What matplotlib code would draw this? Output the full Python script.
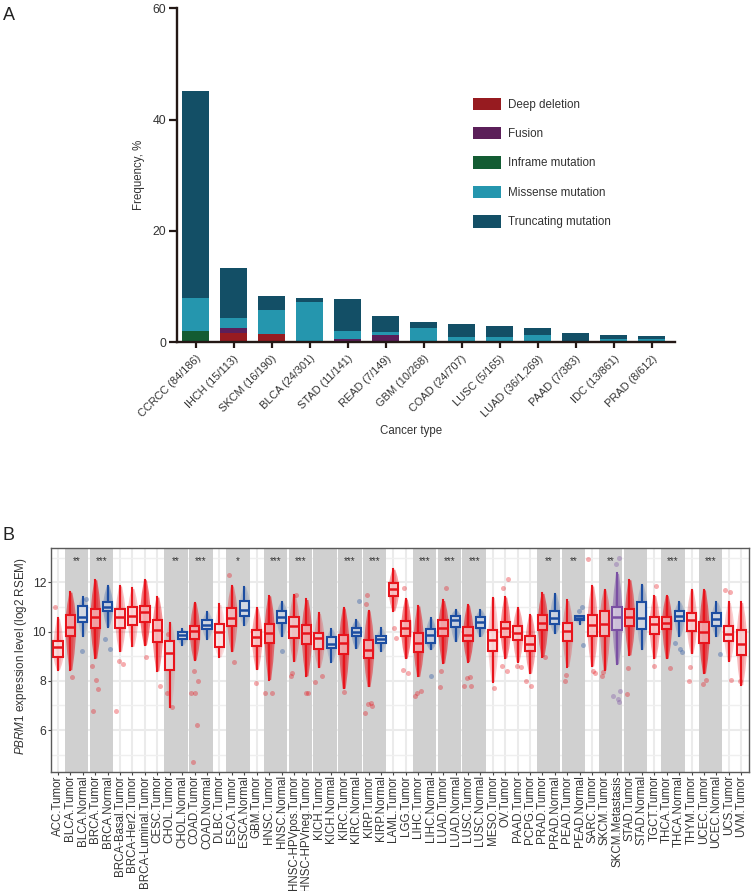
import matplotlib
matplotlib.use("Agg")
import matplotlib.pyplot as plt
from matplotlib.transforms import ScaledTranslation
from itertools import cycle

plt.rcParams['font.family'] = ['Liberation Sans', 'DejaVu Sans']
plt.rcParams['mathtext.fontset'] = 'custom'
plt.rcParams['mathtext.it'] = 'Liberation Sans:italic'
plt.rcParams['mathtext.rm'] = 'Liberation Sans'

W, H = 752, 891
TEXT = '#333333'

# ---------- Panel A data ----------
cancers = ['CCRCC (84/186)', 'IHCH (15/113)', 'SKCM (16/190)', 'BLCA (24/301)', 'STAD (11/141)',
           'READ (7/149)', 'GBM (10/268)', 'COAD (24/707)', 'LUSC (5/165)', 'LUAD (36/1,269)',
           'PAAD (7/383)', 'IDC (13/861)', 'PRAD (8/612)']
deep_deletion = [0, 1.75, 1.5, 0, 0, 0, 0, 0, 0, 0, 0, 0, 0]
fusion = [0, 0.75, 0, 0, 0.65, 1.3, 0, 0, 0, 0, 0, 0, 0]
inframe = [2.0, 0, 0, 0, 0, 0, 0, 0, 0, 0, 0, 0, 0]
missense = [6.0, 1.9, 4.25, 7.3, 1.4, 0.6, 2.6, 1.0, 1.0, 1.25, 0.3, 0.65, 0.65]
truncating = [37.1, 8.9, 2.65, 0.7, 5.7, 2.8, 1.05, 2.2, 1.95, 1.4, 1.3, 0.65, 0.5]
mut_names = ['Deep deletion', 'Fusion', 'Inframe mutation', 'Missense mutation', 'Truncating mutation']
mut_colors = ['#971B20', '#5B1F59', '#135C33', '#2596AE', '#134F66']

# ---------- Panel B data ----------
groups = ['ACC.Tumor', 'BLCA.Tumor', 'BLCA.Normal', 'BRCA.Tumor', 'BRCA.Normal', 'BRCA-Basal.Tumor',
          'BRCA-Her2.Tumor', 'BRCA-Luminal.Tumor', 'CESC.Tumor', 'CHOL.Tumor', 'CHOL.Normal', 'COAD.Tumor',
          'COAD.Normal', 'DLBC.Tumor', 'ESCA.Tumor', 'ESCA.Normal', 'GBM.Tumor', 'HNSC.Tumor', 'HNSC.Normal',
          'HNSC-HPVpos.Tumor', 'HNSC-HPVneg.Tumor', 'KICH.Tumor', 'KICH.Normal', 'KIRC.Tumor', 'KIRC.Normal',
          'KIRP.Tumor', 'KIRP.Normal', 'LAML.Tumor', 'LGG.Tumor', 'LIHC.Tumor', 'LIHC.Normal', 'LUAD.Tumor',
          'LUAD.Normal', 'LUSC.Tumor', 'LUSC.Normal', 'MESO.Tumor', 'OV.Tumor', 'PAAD.Tumor', 'PCPG.Tumor',
          'PRAD.Tumor', 'PRAD.Normal', 'PEAD.Tumor', 'PEAD.Normal', 'SARC.Tumor', 'SKCM.Tumor',
          'SKCM.Metastasis', 'STAD.Tumor', 'STAD.Normal', 'TGCT.Tumor', 'THCA.Tumor', 'THCA.Normal',
          'THYM.Tumor', 'UCEC.Tumor', 'UCEC.Normal', 'UCS.Tumor', 'UVM.Tumor']
q1 = [8.96, 9.8, 10.4, 10.13, 10.84, 10.13, 10.27, 10.4, 9.57, 8.45, 9.69, 9.69, 10.1, 9.37, 10.22, 10.62,
      9.42, 9.55, 10.34, 9.73, 9.5, 9.28, 9.35, 9.1, 9.82, 8.92, 9.53, 11.46, 9.82, 9.18, 9.55, 9.8, 10.2,
      9.62, 10.16, 9.22, 9.77, 9.65, 9.2, 10.05, 10.3, 9.62, 10.47, 9.81, 9.82, 10.08, 10.22, 10.12, 9.9,
      10.1, 10.42, 10.03, 9.53, 10.24, 9.62, 9.04]
med = [9.36, 10.2, 10.58, 10.58, 11.0, 10.58, 10.65, 10.78, 10.07, 9.12, 9.84, 10.03, 10.27, 9.97, 10.55,
       10.88, 9.76, 9.95, 10.58, 10.23, 9.93, 9.72, 9.49, 9.53, 10.0, 9.26, 9.69, 11.72, 10.13, 9.53, 9.84,
       10.13, 10.45, 9.86, 10.4, 9.66, 10.16, 9.96, 9.49, 10.36, 10.54, 10.03, 10.55, 10.27, 10.3, 10.57,
       10.58, 10.53, 10.3, 10.34, 10.64, 10.45, 9.97, 10.51, 9.89, 9.49]
q3 = [9.62, 10.68, 11.05, 10.92, 11.2, 10.9, 11.0, 11.05, 10.45, 9.62, 9.97, 10.24, 10.47, 10.3, 10.97, 11.23,
      10.08, 10.32, 10.85, 10.57, 10.28, 9.92, 9.76, 9.84, 10.16, 9.66, 9.8, 11.96, 10.42, 9.93, 10.1, 10.46,
      10.65, 10.19, 10.6, 10.08, 10.4, 10.24, 9.81, 10.66, 10.85, 10.36, 10.65, 10.69, 10.82, 11.0, 10.92,
      11.18, 10.57, 10.58, 10.85, 10.74, 10.38, 10.77, 10.24, 10.07]
whislo = [8.45, 8.45, 9.82, 8.92, 10.2, 9.2, 9.4, 9.45, 8.4, 6.93, 9.46, 8.85, 9.7, 8.97, 9.2, 10.25, 8.47,
          8.05, 9.8, 8.8, 8.2, 8.55, 8.78, 7.7, 9.32, 7.77, 9.2, 10.84, 8.92, 8.18, 9.28, 8.72, 9.6, 8.78,
          9.8, 7.97, 8.92, 8.78, 8.31, 8.98, 9.93, 8.58, 10.31, 8.6, 8.45, 8.69, 9.05, 9.28, 8.92, 8.92,
          9.82, 9.12, 8.31, 9.8, 8.81, 7.84]
whishi = [10.54, 11.6, 11.4, 12.1, 11.85, 11.85, 11.75, 12.1, 11.4, 10.35, 10.1, 11.17, 10.8, 11.1, 11.85,
          11.82, 10.95, 11.45, 11.2, 11.5, 11.3, 10.74, 10.1, 10.95, 10.47, 10.84, 10.13, 12.53, 11.32,
          11.04, 10.54, 11.26, 10.88, 11.08, 10.88, 11.38, 11.4, 10.95, 10.68, 11.55, 11.53, 11.26, 10.65,
          11.85, 11.69, 12.36, 12.1, 11.9, 11.46, 11.46, 11.2, 11.69, 11.69, 11.2, 11.18, 11.18]
outliers = [[11.0], [8.15], [9.2, 11.3], [8.6, 8.05, 7.65, 6.78], [9.68, 9.3], [8.8, 8.7, 6.78], [], [8.95],
            [7.8], [9.9, 7.5, 6.95], [], [8.4, 8.0, 7.5, 7.5, 6.2, 4.7], [], [], [12.28, 8.75], [], [7.9],
            [7.5, 7.5], [9.2], [11.5, 8.3, 8.2], [7.5, 7.5], [8.2, 7.95], [], [7.55], [11.25],
            [11.5, 11.1, 7.1, 7.05, 6.97, 6.7], [], [10.15, 9.73], [11.75, 8.45, 8.3], [7.5, 7.6, 7.4], [8.2],
            [11.77, 8.4, 7.75], [], [8.15, 8.1, 7.8, 7.8], [], [7.7], [12.15, 11.75, 8.6, 8.4], [8.6, 8.55],
            [8.0, 7.8], [8.95], [], [8.25, 8.0], [11.0, 10.85, 9.45], [12.93, 8.4, 8.3], [8.35, 8.2],
            [13.0, 12.75, 7.6, 7.4, 7.25, 7.15], [8.5, 7.45], [], [11.85, 8.6], [8.5], [9.55, 9.3, 9.15],
            [8.55, 8.0], [8.05, 7.85], [9.1], [11.7, 11.6, 8.05], [8.0]]
# how dense each group's cloud of samples looks in the picture
cloud_opacity = [.35, .75, .2, .85, .4, .4, .35, .8, .65, .15, .2, .7, .25, .2, .5, .2, .5, .8, .3, .4, .75,
                 .35, .25, .8, .4, .7, .2, .55, .75, .75, .35, .8, .35, .8, .3, .3, .65, .5, .55, .8, .3,
                 .4, .2, .5, .5, .65, .75, .25, .5, .8, .3, .4, .85, .25, .3, .4]
sig_first = ['BLCA.Tumor', 'BRCA.Tumor', 'CHOL.Tumor', 'COAD.Tumor', 'ESCA.Tumor', 'HNSC.Tumor',
             'HNSC-HPVpos.Tumor', 'KICH.Tumor', 'KIRC.Tumor', 'KIRP.Tumor', 'LIHC.Tumor', 'LUAD.Tumor',
             'LUSC.Tumor', 'PRAD.Tumor', 'PEAD.Tumor', 'SKCM.Tumor', 'STAD.Tumor', 'THCA.Tumor', 'UCEC.Tumor']
sig_marks = ['**', '***', '**', '***', '*', '***', '***', '', '***', '***', '***', '***', '***', '**', '**',
             '**', '', '***', '***']


def axes_px(left, top, right, bottom):
    return fig.add_axes([left / W, 1 - bottom / H, (right - left) / W, (bottom - top) / H])


fig = plt.figure(figsize=(W / 100, H / 100), dpi=100, facecolor='white')

# ---------- Panel A ----------
axA = axes_px(176.7, 8.3, 675, 342.3)
pos = list(range(len(cancers)))
bottom = [0.0] * len(cancers)
for name, vals, col in zip(mut_names, [deep_deletion, fusion, inframe, missense, truncating], mut_colors):
    axA.bar(pos, vals, bottom=bottom, width=0.71, color=col, label=name, linewidth=0)
    bottom = [b + v for b, v in zip(bottom, vals)]
axA.set_xlim(-0.5, 12.61)
axA.set_ylim(0, 60)
axA.set_yticks([0, 20, 40, 60])
axA.set_xticks(pos)
axA.set_xticklabels(cancers, rotation=45, ha='right', va='top', rotation_mode='anchor', fontsize=7.95, color=TEXT)
shift = ScaledTranslation(-3 / 100, 0, fig.dpi_scale_trans)
for lab in axA.get_xticklabels():
    lab.set_transform(lab.get_transform() + shift)
axA.tick_params(axis='y', length=5.5, width=1.6, labelsize=8.8, labelcolor=TEXT, color='#231815', pad=2)
axA.tick_params(axis='x', length=4, width=1.6, color='#231815', pad=4)
for s in ['top', 'right']:
    axA.spines[s].set_visible(False)
for s in ['left', 'bottom']:
    axA.spines[s].set_linewidth(1.7)
    axA.spines[s].set_color('#231815')
fig.text(139 / W, 1 - 175 / H, 'Frequency, %', rotation=90, ha='center', va='center', fontsize=8.3, color=TEXT)
fig.text(411 / W, 1 - 431 / H, 'Cancer type', ha='center', va='center', fontsize=8.3, color=TEXT)
axA.legend(loc='upper left', bbox_to_anchor=(473 / W, 1 - 97.5 / H), bbox_transform=fig.transFigure,
           frameon=False, fontsize=8.4, handlelength=2.37, handleheight=1.23, labelspacing=1.41,
           handletextpad=0.6, borderpad=0, borderaxespad=0, labelcolor=TEXT)

fig.text(3 / W, 1 - 15 / H, 'A', fontsize=13, color='#222222', ha='left', va='center')
fig.text(2 / W, 1 - 535 / H, 'B', fontsize=13, color='#222222', ha='left', va='center')

# ---------- Panel B ----------
axB = axes_px(51, 548, 748.7, 771.7)
RED, BLUE, PURPLE = '#E8141C', '#1C4DA1', '#7A4FA3'
colors = [PURPLE if g.endswith('Metastasis') else (BLUE if g.endswith('Normal') else RED) for g in groups]
xs = list(range(len(groups)))
axB.set_xlim(-0.56, 55.6)
axB.set_ylim(4.31, 13.39)
axB.set_facecolor('white')

axB.set_yticks([6, 8, 10, 12])
axB.set_yticks([5, 7, 9, 11, 13], minor=True)
axB.set_xticks(xs)
axB.set_xticklabels(groups, rotation=90, ha='center', va='top', fontsize=8.3, color=TEXT)
axB.grid(True, which='major', color='#EBEBEB', linewidth=1.5, zorder=0.5)
axB.grid(True, which='minor', axis='y', color='#EFEFEF', linewidth=1.0, zorder=0.5)
axB.set_axisbelow(True)
axB.tick_params(axis='y', which='major', length=2, width=0.8, labelsize=8.8, labelcolor=TEXT, color='#444444', pad=1.5)
axB.tick_params(axis='y', which='minor', length=0)
axB.tick_params(axis='x', length=2, width=0.8, color='#444444', pad=0.5)
for s in axB.spines.values():
    s.set_color('#5A5A5A')
    s.set_linewidth(1.0)
    s.set_zorder(10)

for first, mark in zip(sig_first, sig_marks):
    i = groups.index(first)
    axB.axvspan(i - 0.44, i + 1.44, facecolor='#D0D0D0', edgecolor='none', zorder=1)
    if mark:
        axB.text(i + 0.5, 12.86, mark, ha='center', va='center', fontsize=7, color='#333333', zorder=6)

# sample clouds: translucent column shapes spanning the whisker range
for x, c, a, lo, b, m, t, hi in zip(xs, colors, cloud_opacity, whislo, q1, med, q3, whishi):
    levels = [lo, (lo + b) / 2, b, m, t, (t + hi) / 2, hi]
    half = [0.12, 0.29, 0.40, 0.42, 0.40, 0.29, 0.12]
    axB.fill_betweenx(levels, [x - h for h in half], [x + h for h in half], color=c, alpha=a * 0.7,
                      linewidth=0, zorder=2)
    inner = [h * 0.55 for h in half]
    axB.fill_betweenx(levels, [x - h for h in inner], [x + h for h in inner], color=c, alpha=a * 0.45,
                      linewidth=0, zorder=2.1)

# individually visible samples
offsets = cycle([-0.22, 0.16, -0.06, 0.26, -0.3, 0.06, 0.2, -0.14])
for x, c, vals in zip(xs, colors, outliers):
    for v in vals:
        axB.scatter(x + next(offsets), v, s=13, color=c, alpha=0.35, linewidths=0, zorder=3)

stats = [dict(whislo=lo, q1=b, med=m, q3=t, whishi=hi, fliers=[])
         for lo, b, m, t, hi in zip(whislo, q1, med, q3, whishi)]
art = axB.bxp(stats, positions=xs, widths=0.74, patch_artist=True, showcaps=False, showfliers=False,
              manage_ticks=False, zorder=4)
for i, c in enumerate(colors):
    art['boxes'][i].set(facecolor=(1, 1, 1, 0.5), edgecolor=c, linewidth=1.5, zorder=4)
    art['medians'][i].set(color=c, linewidth=1.8, zorder=5, solid_capstyle='butt')
    for w in art['whiskers'][2 * i:2 * i + 2]:
        w.set(color=c, linewidth=1.5, zorder=3.5)

fig.text(21.5 / W, 1 - 656 / H, r'$\mathit{PBRM1}$ expression level (log2 RSEM)', rotation=90,
         ha='center', va='center', fontsize=8.35, color=TEXT)

fig.savefig('out.png', dpi=100)
